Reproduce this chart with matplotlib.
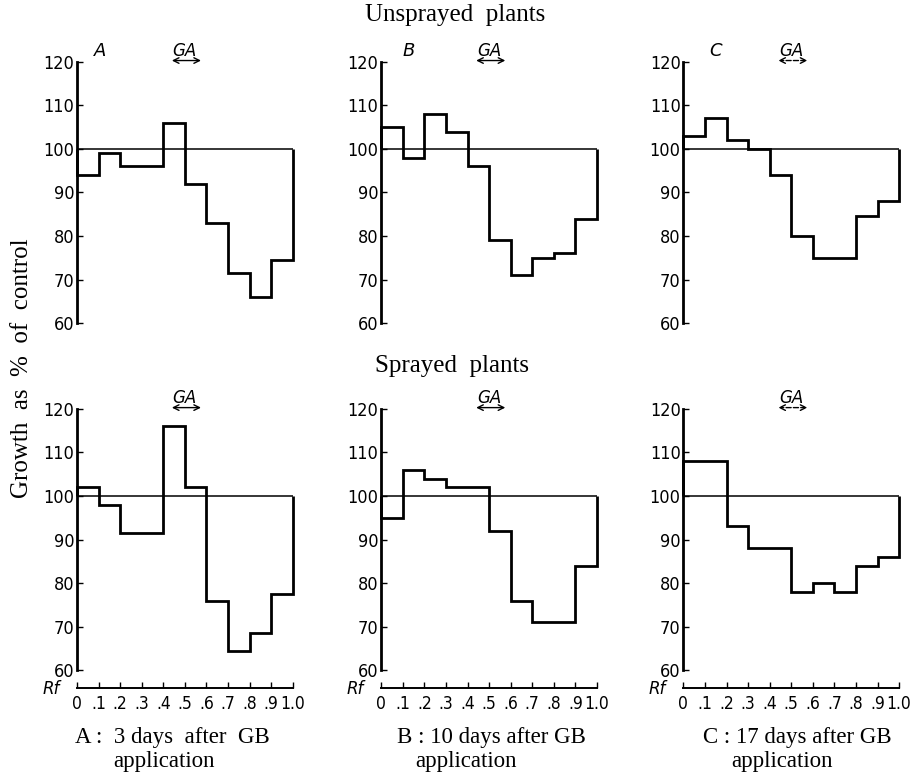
import numpy as np
import matplotlib
matplotlib.use("Agg")
import matplotlib.pyplot as plt

# Rf bins (0 .. 1.0)
rf_edges = [0.0, 0.1, 0.2, 0.3, 0.4, 0.5, 0.6, 0.7, 0.8, 0.9, 1.0]
rf_tick_labels = ["0", ".1", ".2", ".3", ".4", ".5", ".6", ".7", ".8", ".9", "1.0"]
y_ticks = [60, 70, 80, 90, 100, 110, 120]

# growth as % of control, one value per Rf bin
unsprayed_a = [94, 99, 96, 96, 106, 92, 83, 71.5, 66, 74.5]
unsprayed_b = [105, 98, 108, 104, 96, 79, 71, 75, 76, 84]
unsprayed_c = [103, 107, 102, 100, 94, 80, 75, 75, 84.5, 88]
sprayed_a = [102, 98, 91.5, 91.5, 116, 102, 76, 64.5, 68.5, 77.5]
sprayed_b = [95, 106, 104, 102, 102, 92, 76, 71, 71, 84]
sprayed_c = [108, 108, 93, 88, 88, 78, 80, 78, 84, 86]

panel_letters = ["A", "B", "C"]
caption_line1 = ["A :  3 days  after  GB", "B : 10 days after GB", "C : 17 days after GB"]
caption_line2 = ["application", "application", "application"]
line1_x = [172, 491, 797]   # pixel centres
line2_x = [164, 466, 782]

serif = ["Liberation Serif", "DejaVu Serif"]
sans = ["DejaVu Sans"]

W, H = 910, 773
fig = plt.figure(figsize=(W / 100, H / 100), dpi=100)

col_left = [0.0846, 0.419, 0.751]
col_w = 0.237
row_bottom = [0.582, 0.133]
row_h = 0.338

rows = [[unsprayed_a, unsprayed_b, unsprayed_c],
        [sprayed_a, sprayed_b, sprayed_c]]

for r in range(2):
    for c in range(3):
        ax = fig.add_axes([col_left[c], row_bottom[r], col_w, row_h])
        vals = rows[r][c]
        ax.stairs(vals, rf_edges, baseline=100, fill=False,
                  color="black", linewidth=2.0, clip_on=False)
        ax.hlines(100, 0, 1.0, color="black", linewidth=1.1, clip_on=False)

        ax.set_xlim(0, 1.0)
        ax.set_ylim(60, 120)
        for s in ["top", "right"]:
            ax.spines[s].set_visible(False)
        ax.spines["left"].set_linewidth(2.0)
        ax.set_yticks(y_ticks)
        ax.set_yticklabels([str(t) for t in y_ticks], family=sans,
                           fontsize=13, fontstretch="condensed", fontweight="light")
        ax.tick_params(axis="y", direction="in", length=4, width=1, pad=2)

        if r == 0:
            ax.spines["bottom"].set_visible(False)
            ax.set_xticks([])
            ax.text(0.08 + 0.02 * c, 122.5, panel_letters[c], fontsize=13,
                    style="italic", family=sans, ha="left", va="center")
        else:
            ax.spines["bottom"].set_position(("outward", 13))
            ax.spines["bottom"].set_linewidth(1.4)
            ax.set_xticks(rf_edges)
            ax.set_xticklabels(rf_tick_labels, family=sans, fontsize=12.5,
                               fontstretch="condensed")
            ax.tick_params(axis="x", direction="in", length=4, width=1, pad=5)
            ax.text(-0.16, 55.6, "Rf", fontsize=12, style="italic",
                    family=sans, ha="left", va="center", clip_on=False)

        # GA marker
        ls = "--" if c == 2 else "-"
        ax.annotate("", xy=(0.44, 120.3), xytext=(0.575, 120.3),
                    arrowprops=dict(arrowstyle="<->", lw=1.0, color="black",
                                    linestyle=ls, shrinkA=0, shrinkB=0),
                    annotation_clip=False)
        ax.text(0.5, 122.6, "GA", fontsize=12, style="italic", family=sans,
                ha="center", va="center", clip_on=False)

fig.text(0.5, 0.980, "Unsprayed  plants", family=serif, fontsize=18,
         ha="center", va="center")
fig.text(0.497, 0.527, "Sprayed  plants", family=serif, fontsize=18,
         ha="center", va="center")
fig.text(0.024, 0.524, "Growth  as  %  of  control", family=serif, fontsize=18,
         rotation=90, ha="center", va="center")

for c in range(3):
    fig.text(line1_x[c] / W, 1 - 738 / H, caption_line1[c], family=serif,
             fontsize=16.5, ha="center", va="center")
    fig.text(line2_x[c] / W, 1 - 762 / H, caption_line2[c], family=serif,
             fontsize=16.5, ha="center", va="center")

fig.savefig("out.png", dpi=100)
